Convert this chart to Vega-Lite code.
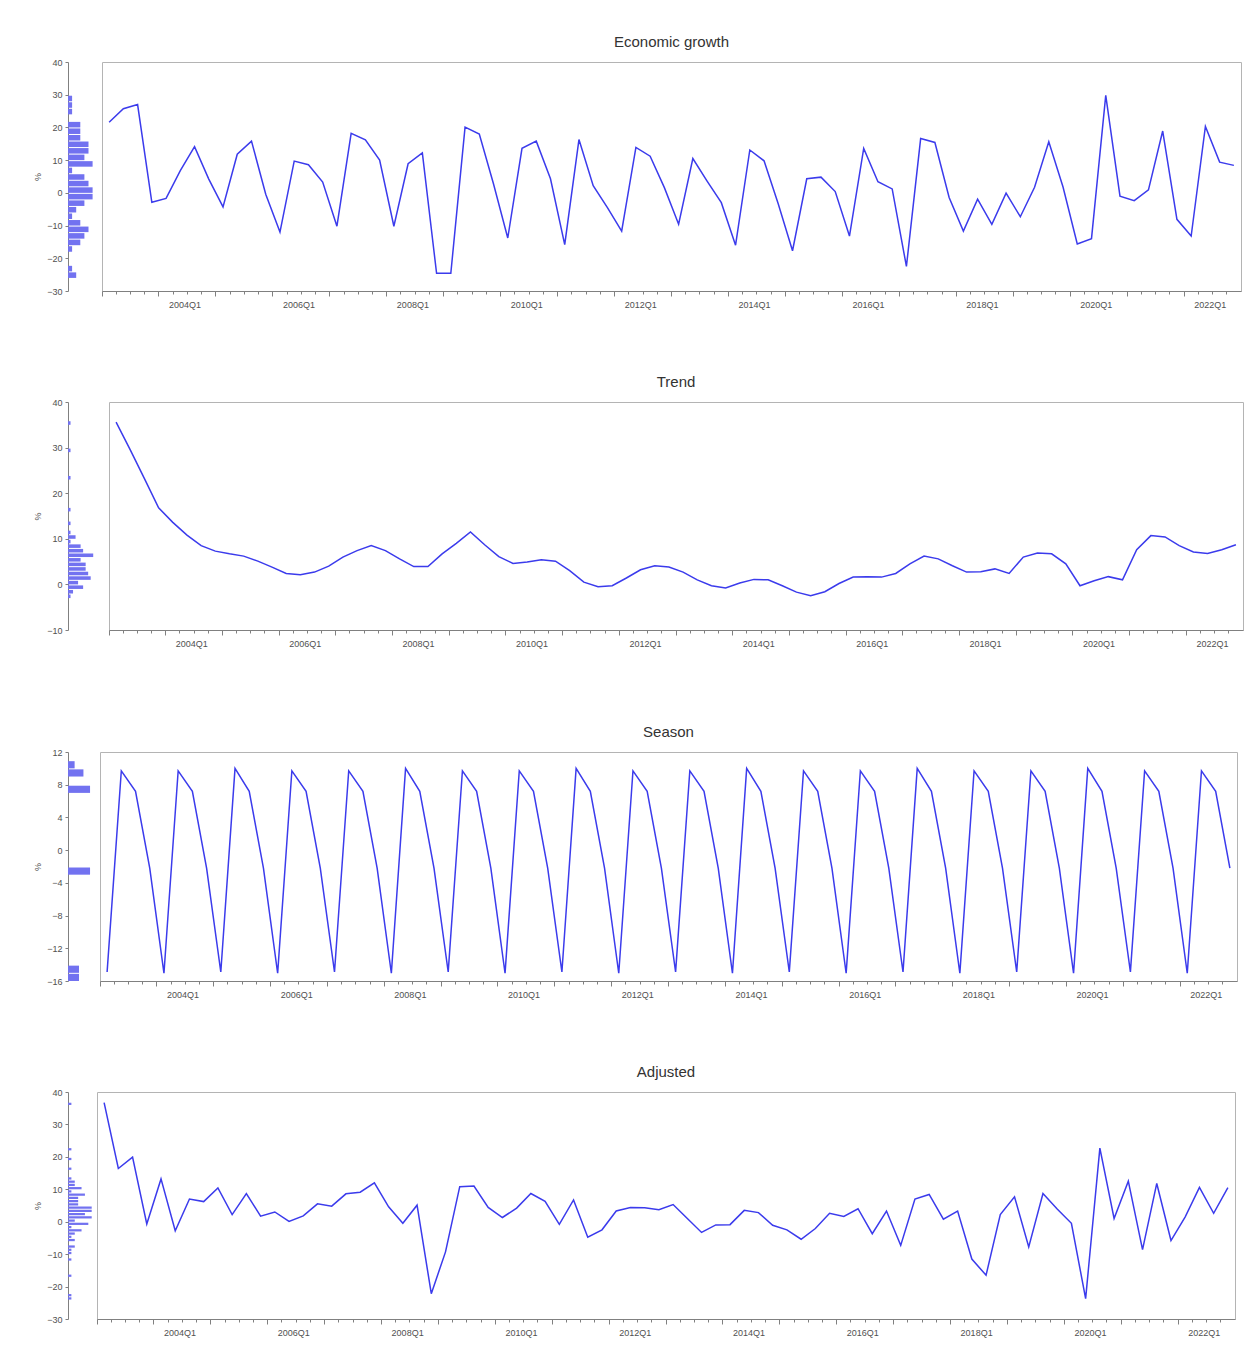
{
  "$schema": "https://vega.github.io/schema/vega-lite/v6.json",
  "padding": {"left": 33, "top": 34, "right": 5, "bottom": 5},
  "background": "white",
  "config": {
    "font": "Liberation Sans",
    "view": {"stroke": "#b4b4b4", "strokeWidth": 1},
    "axis": {"labelFont": "Liberation Sans", "labelFontSize": 9, "labelColor": "#505050", "tickColor": "#808080", "domainColor": "#808080", "grid": false},
    "title": {"fontSize": 15, "fontWeight": "normal", "color": "#333333", "font": "Liberation Sans"}
  },
  "data": {"values": [
    {"q": "2003Q1", "growth": 21.6, "trend": 35.6, "season": -14.9, "adjusted": 36.7},
    {"q": "2003Q2", "growth": 25.7, "trend": 29.5, "season": 9.7, "adjusted": 16.4},
    {"q": "2003Q3", "growth": 27.0, "trend": 23.2, "season": 7.2, "adjusted": 19.9},
    {"q": "2003Q4", "growth": -2.9, "trend": 16.8, "season": -2.2, "adjusted": -0.7},
    {"q": "2004Q1", "growth": -1.7, "trend": 13.6, "season": -15.05, "adjusted": 13.2},
    {"q": "2004Q2", "growth": 6.8, "trend": 10.8, "season": 9.7, "adjusted": -2.8},
    {"q": "2004Q3", "growth": 14.1, "trend": 8.5, "season": 7.2, "adjusted": 7.0},
    {"q": "2004Q4", "growth": 4.2, "trend": 7.3, "season": -2.2, "adjusted": 6.2},
    {"q": "2005Q1", "growth": -4.3, "trend": 6.7, "season": -14.9, "adjusted": 10.4},
    {"q": "2005Q2", "growth": 11.8, "trend": 6.2, "season": 10.0, "adjusted": 2.2},
    {"q": "2005Q3", "growth": 15.8, "trend": 5.1, "season": 7.2, "adjusted": 8.7},
    {"q": "2005Q4", "growth": -0.4, "trend": 3.8, "season": -2.2, "adjusted": 1.7},
    {"q": "2006Q1", "growth": -12.0, "trend": 2.4, "season": -15.05, "adjusted": 3.0},
    {"q": "2006Q2", "growth": 9.7, "trend": 2.1, "season": 9.7, "adjusted": 0.1},
    {"q": "2006Q3", "growth": 8.6, "trend": 2.7, "season": 7.2, "adjusted": 1.8},
    {"q": "2006Q4", "growth": 3.3, "trend": 4.0, "season": -2.2, "adjusted": 5.5},
    {"q": "2007Q1", "growth": -10.2, "trend": 6.0, "season": -14.9, "adjusted": 4.8},
    {"q": "2007Q2", "growth": 18.2, "trend": 7.4, "season": 9.7, "adjusted": 8.6},
    {"q": "2007Q3", "growth": 16.2, "trend": 8.5, "season": 7.2, "adjusted": 9.1},
    {"q": "2007Q4", "growth": 10.0, "trend": 7.4, "season": -2.2, "adjusted": 12.0},
    {"q": "2008Q1", "growth": -10.2, "trend": 5.6, "season": -15.05, "adjusted": 4.6},
    {"q": "2008Q2", "growth": 8.9, "trend": 3.9, "season": 10.0, "adjusted": -0.5},
    {"q": "2008Q3", "growth": 12.2, "trend": 3.9, "season": 7.2, "adjusted": 5.1},
    {"q": "2008Q4", "growth": -24.6, "trend": 6.7, "season": -2.2, "adjusted": -22.2},
    {"q": "2009Q1", "growth": -24.6, "trend": 9.0, "season": -14.9, "adjusted": -9.3},
    {"q": "2009Q2", "growth": 20.1, "trend": 11.5, "season": 9.7, "adjusted": 10.8},
    {"q": "2009Q3", "growth": 18.0, "trend": 8.7, "season": 7.2, "adjusted": 11.0},
    {"q": "2009Q4", "growth": 2.7, "trend": 6.1, "season": -2.2, "adjusted": 4.4},
    {"q": "2010Q1", "growth": -13.8, "trend": 4.6, "season": -15.05, "adjusted": 1.3},
    {"q": "2010Q2", "growth": 13.6, "trend": 4.9, "season": 9.7, "adjusted": 4.2},
    {"q": "2010Q3", "growth": 15.8, "trend": 5.4, "season": 7.2, "adjusted": 8.7},
    {"q": "2010Q4", "growth": 4.3, "trend": 5.1, "season": -2.2, "adjusted": 6.3},
    {"q": "2011Q1", "growth": -15.8, "trend": 3.0, "season": -14.9, "adjusted": -0.8},
    {"q": "2011Q2", "growth": 16.3, "trend": 0.5, "season": 10.0, "adjusted": 6.7},
    {"q": "2011Q3", "growth": 2.2, "trend": -0.5, "season": 7.2, "adjusted": -4.8},
    {"q": "2011Q4", "growth": -4.5, "trend": -0.3, "season": -2.2, "adjusted": -2.5},
    {"q": "2012Q1", "growth": -11.7, "trend": 1.4, "season": -15.05, "adjusted": 3.3},
    {"q": "2012Q2", "growth": 13.9, "trend": 3.2, "season": 9.7, "adjusted": 4.4},
    {"q": "2012Q3", "growth": 11.2, "trend": 4.1, "season": 7.2, "adjusted": 4.3},
    {"q": "2012Q4", "growth": 1.6, "trend": 3.8, "season": -2.2, "adjusted": 3.7},
    {"q": "2013Q1", "growth": -9.6, "trend": 2.7, "season": -14.9, "adjusted": 5.3},
    {"q": "2013Q2", "growth": 10.5, "trend": 1.0, "season": 9.7, "adjusted": 1.0},
    {"q": "2013Q3", "growth": 3.6, "trend": -0.3, "season": 7.2, "adjusted": -3.3},
    {"q": "2013Q4", "growth": -3.0, "trend": -0.8, "season": -2.2, "adjusted": -1.0},
    {"q": "2014Q1", "growth": -16.0, "trend": 0.3, "season": -15.05, "adjusted": -0.9},
    {"q": "2014Q2", "growth": 13.1, "trend": 1.1, "season": 10.0, "adjusted": 3.5},
    {"q": "2014Q3", "growth": 9.8, "trend": 1.0, "season": 7.2, "adjusted": 2.8},
    {"q": "2014Q4", "growth": -3.4, "trend": -0.3, "season": -2.2, "adjusted": -1.1},
    {"q": "2015Q1", "growth": -17.7, "trend": -1.7, "season": -14.9, "adjusted": -2.5},
    {"q": "2015Q2", "growth": 4.3, "trend": -2.5, "season": 9.7, "adjusted": -5.4},
    {"q": "2015Q3", "growth": 4.8, "trend": -1.6, "season": 7.2, "adjusted": -2.1},
    {"q": "2015Q4", "growth": 0.4, "trend": 0.2, "season": -2.2, "adjusted": 2.6},
    {"q": "2016Q1", "growth": -13.2, "trend": 1.6, "season": -15.05, "adjusted": 1.6},
    {"q": "2016Q2", "growth": 13.6, "trend": 1.7, "season": 9.7, "adjusted": 4.0},
    {"q": "2016Q3", "growth": 3.4, "trend": 1.6, "season": 7.2, "adjusted": -3.7},
    {"q": "2016Q4", "growth": 1.2, "trend": 2.4, "season": -2.2, "adjusted": 3.3},
    {"q": "2017Q1", "growth": -22.5, "trend": 4.5, "season": -14.9, "adjusted": -7.3},
    {"q": "2017Q2", "growth": 16.6, "trend": 6.2, "season": 10.0, "adjusted": 7.0},
    {"q": "2017Q3", "growth": 15.4, "trend": 5.6, "season": 7.2, "adjusted": 8.4},
    {"q": "2017Q4", "growth": -1.4, "trend": 4.1, "season": -2.2, "adjusted": 0.8},
    {"q": "2018Q1", "growth": -11.7, "trend": 2.7, "season": -15.05, "adjusted": 3.3},
    {"q": "2018Q2", "growth": -1.9, "trend": 2.8, "season": 9.7, "adjusted": -11.5},
    {"q": "2018Q3", "growth": -9.6, "trend": 3.4, "season": 7.2, "adjusted": -16.5},
    {"q": "2018Q4", "growth": -0.1, "trend": 2.4, "season": -2.2, "adjusted": 2.2},
    {"q": "2019Q1", "growth": -7.3, "trend": 6.0, "season": -14.9, "adjusted": 7.7},
    {"q": "2019Q2", "growth": 1.7, "trend": 6.9, "season": 9.7, "adjusted": -7.8},
    {"q": "2019Q3", "growth": 15.6, "trend": 6.7, "season": 7.2, "adjusted": 8.7},
    {"q": "2019Q4", "growth": 1.8, "trend": 4.5, "season": -2.2, "adjusted": 3.9},
    {"q": "2020Q1", "growth": -15.6, "trend": -0.3, "season": -15.05, "adjusted": -0.5},
    {"q": "2020Q2", "growth": -14.0, "trend": 0.8, "season": 10.0, "adjusted": -23.7},
    {"q": "2020Q3", "growth": 29.8, "trend": 1.7, "season": 7.2, "adjusted": 22.7},
    {"q": "2020Q4", "growth": -1.0, "trend": 1.0, "season": -2.2, "adjusted": 1.0},
    {"q": "2021Q1", "growth": -2.4, "trend": 7.6, "season": -14.9, "adjusted": 12.5},
    {"q": "2021Q2", "growth": 0.9, "trend": 10.7, "season": 9.7, "adjusted": -8.6},
    {"q": "2021Q3", "growth": 18.9, "trend": 10.4, "season": 7.2, "adjusted": 11.8},
    {"q": "2021Q4", "growth": -8.1, "trend": 8.5, "season": -2.2, "adjusted": -5.8},
    {"q": "2022Q1", "growth": -13.2, "trend": 7.1, "season": -15.05, "adjusted": 1.5},
    {"q": "2022Q2", "growth": 20.3, "trend": 6.8, "season": 9.7, "adjusted": 10.6},
    {"q": "2022Q3", "growth": 9.4, "trend": 7.6, "season": 7.2, "adjusted": 2.6},
    {"q": "2022Q4", "growth": 8.4, "trend": 8.7, "season": -2.2, "adjusted": 10.5}
  ]},
  "spacing": 75,
  "vconcat": [
    {
      "spacing": 64,
      "vconcat": [
        {
          "spacing": 4,
          "hconcat": [
            {
              "width": 28.7, "height": 229,
              "view": {"stroke": null},
              "mark": {"type": "bar", "color": "#7272f0", "binSpacing": 1},
              "encoding": {
                "y": {"field": "growth", "type": "quantitative", "bin": {"step": 2, "extent": [-30, 40]},
                      "scale": {"domain": [-30, 40], "nice": false, "zero": false},
                      "axis": {"values": [-30, -20, -10, 0, 10, 20, 30, 40], "title": "%", "titleFontSize": 9, "titleFontWeight": "normal", "titleColor": "#505050", "titlePadding": 4, "tickSize": 3, "labelPadding": 3, "labelFlush": false}},
                "x": {"aggregate": "count", "type": "quantitative", "scale": {"domain": [0, 7], "nice": false}, "axis": null}
              }
            },
            {
              "width": 1139, "height": 229,
              "title": {"text": "Economic growth", "offset": 12},
              "mark": {"type": "line", "color": "#3b3bec", "strokeWidth": 1.5},
              "encoding": {
                "x": {"field": "q", "type": "ordinal", "scale": {"type": "band", "paddingInner": 0, "paddingOuter": 0},
                      "axis": {"title": null, "bandPosition": 0, "labelAngle": 0, "labelAlign": "left", "labelBaseline": "top", "labelOffset": 3, "labelPadding": 4, "labelOverlap": false, "labelFlush": false,
                               "labelExpr": "(substring(datum.value,5,6)=='1' && toNumber(substring(datum.value,0,4))%2==0) ? datum.value : ''",
                               "tickSize": {"condition": {"test": "substring(datum.value,5,6)=='1'", "value": 5}, "value": 3}}},
                "y": {"field": "growth", "type": "quantitative", "scale": {"domain": [-30, 40], "nice": false, "zero": false}, "axis": null}
              }
            }
          ]
        },
        {
          "spacing": 4,
          "hconcat": [
            {
              "width": 35.3, "height": 228,
              "view": {"stroke": null},
              "mark": {"type": "bar", "color": "#7272f0", "binSpacing": 1},
              "encoding": {
                "y": {"field": "trend", "type": "quantitative", "bin": {"step": 1, "extent": [-10, 40]},
                      "scale": {"domain": [-10, 40], "nice": false, "zero": false},
                      "axis": {"values": [-10, 0, 10, 20, 30, 40], "title": "%", "titleFontSize": 9, "titleFontWeight": "normal", "titleColor": "#505050", "titlePadding": 4, "tickSize": 3, "labelPadding": 3, "labelFlush": false}},
                "x": {"aggregate": "count", "type": "quantitative", "scale": {"domain": [0, 14], "nice": false}, "axis": null}
              }
            },
            {
              "width": 1134, "height": 228,
              "title": {"text": "Trend", "offset": 12},
              "mark": {"type": "line", "color": "#3b3bec", "strokeWidth": 1.5},
              "encoding": {
                "x": {"field": "q", "type": "ordinal", "scale": {"type": "band", "paddingInner": 0, "paddingOuter": 0},
                      "axis": {"title": null, "bandPosition": 0, "labelAngle": 0, "labelAlign": "left", "labelBaseline": "top", "labelOffset": 3, "labelPadding": 4, "labelOverlap": false, "labelFlush": false,
                               "labelExpr": "(substring(datum.value,5,6)=='1' && toNumber(substring(datum.value,0,4))%2==0) ? datum.value : ''",
                               "tickSize": {"condition": {"test": "substring(datum.value,5,6)=='1'", "value": 5}, "value": 3}}},
                "y": {"field": "trend", "type": "quantitative", "scale": {"domain": [-10, 40], "nice": false, "zero": false}, "axis": null}
              }
            }
          ]
        }
      ]
    },
    {
      "spacing": 64,
      "vconcat": [
        {
          "spacing": 4,
          "hconcat": [
            {
              "width": 27, "height": 229,
              "view": {"stroke": null},
              "mark": {"type": "bar", "color": "#7272f0", "binSpacing": 1},
              "encoding": {
                "y": {"field": "season", "type": "quantitative", "bin": {"step": 1, "extent": [-16, 12]},
                      "scale": {"domain": [-16, 12], "nice": false, "zero": false},
                      "axis": {"values": [-16, -12, -8, -4, 0, 4, 8, 12], "title": "%", "titleFontSize": 9, "titleFontWeight": "normal", "titleColor": "#505050", "titlePadding": 4, "tickSize": 3, "labelPadding": 3, "labelFlush": false}},
                "x": {"aggregate": "count", "type": "quantitative", "scale": {"domain": [0, 24.5], "nice": false}, "axis": null}
              }
            },
            {
              "width": 1137, "height": 229,
              "title": {"text": "Season", "offset": 12},
              "mark": {"type": "line", "color": "#3b3bec", "strokeWidth": 1.5},
              "encoding": {
                "x": {"field": "q", "type": "ordinal", "scale": {"type": "band", "paddingInner": 0, "paddingOuter": 0},
                      "axis": {"title": null, "bandPosition": 0, "labelAngle": 0, "labelAlign": "left", "labelBaseline": "top", "labelOffset": 3, "labelPadding": 4, "labelOverlap": false, "labelFlush": false,
                               "labelExpr": "(substring(datum.value,5,6)=='1' && toNumber(substring(datum.value,0,4))%2==0) ? datum.value : ''",
                               "tickSize": {"condition": {"test": "substring(datum.value,5,6)=='1'", "value": 5}, "value": 3}}},
                "y": {"field": "season", "type": "quantitative", "scale": {"domain": [-16, 12], "nice": false, "zero": false}, "axis": null}
              }
            }
          ]
        },
        {
          "spacing": 4,
          "hconcat": [
            {
              "width": 23.7, "height": 227,
              "view": {"stroke": null},
              "mark": {"type": "bar", "color": "#7272f0", "binSpacing": 1},
              "encoding": {
                "y": {"field": "adjusted", "type": "quantitative", "bin": {"step": 1, "extent": [-30, 40]},
                      "scale": {"domain": [-30, 40], "nice": false, "zero": false},
                      "axis": {"values": [-30, -20, -10, 0, 10, 20, 30, 40], "title": "%", "titleFontSize": 9, "titleFontWeight": "normal", "titleColor": "#505050", "titlePadding": 4, "tickSize": 3, "labelPadding": 3, "labelFlush": false}},
                "x": {"aggregate": "count", "type": "quantitative", "scale": {"domain": [0, 7], "nice": false}, "axis": null}
              }
            },
            {
              "width": 1138, "height": 227,
              "title": {"text": "Adjusted", "offset": 12},
              "mark": {"type": "line", "color": "#3b3bec", "strokeWidth": 1.5},
              "encoding": {
                "x": {"field": "q", "type": "ordinal", "scale": {"type": "band", "paddingInner": 0, "paddingOuter": 0},
                      "axis": {"title": null, "bandPosition": 0, "labelAngle": 0, "labelAlign": "left", "labelBaseline": "top", "labelOffset": 3, "labelPadding": 4, "labelOverlap": false, "labelFlush": false,
                               "labelExpr": "(substring(datum.value,5,6)=='1' && toNumber(substring(datum.value,0,4))%2==0) ? datum.value : ''",
                               "tickSize": {"condition": {"test": "substring(datum.value,5,6)=='1'", "value": 5}, "value": 3}}},
                "y": {"field": "adjusted", "type": "quantitative", "scale": {"domain": [-30, 40], "nice": false, "zero": false}, "axis": null}
              }
            }
          ]
        }
      ]
    }
  ]
}
